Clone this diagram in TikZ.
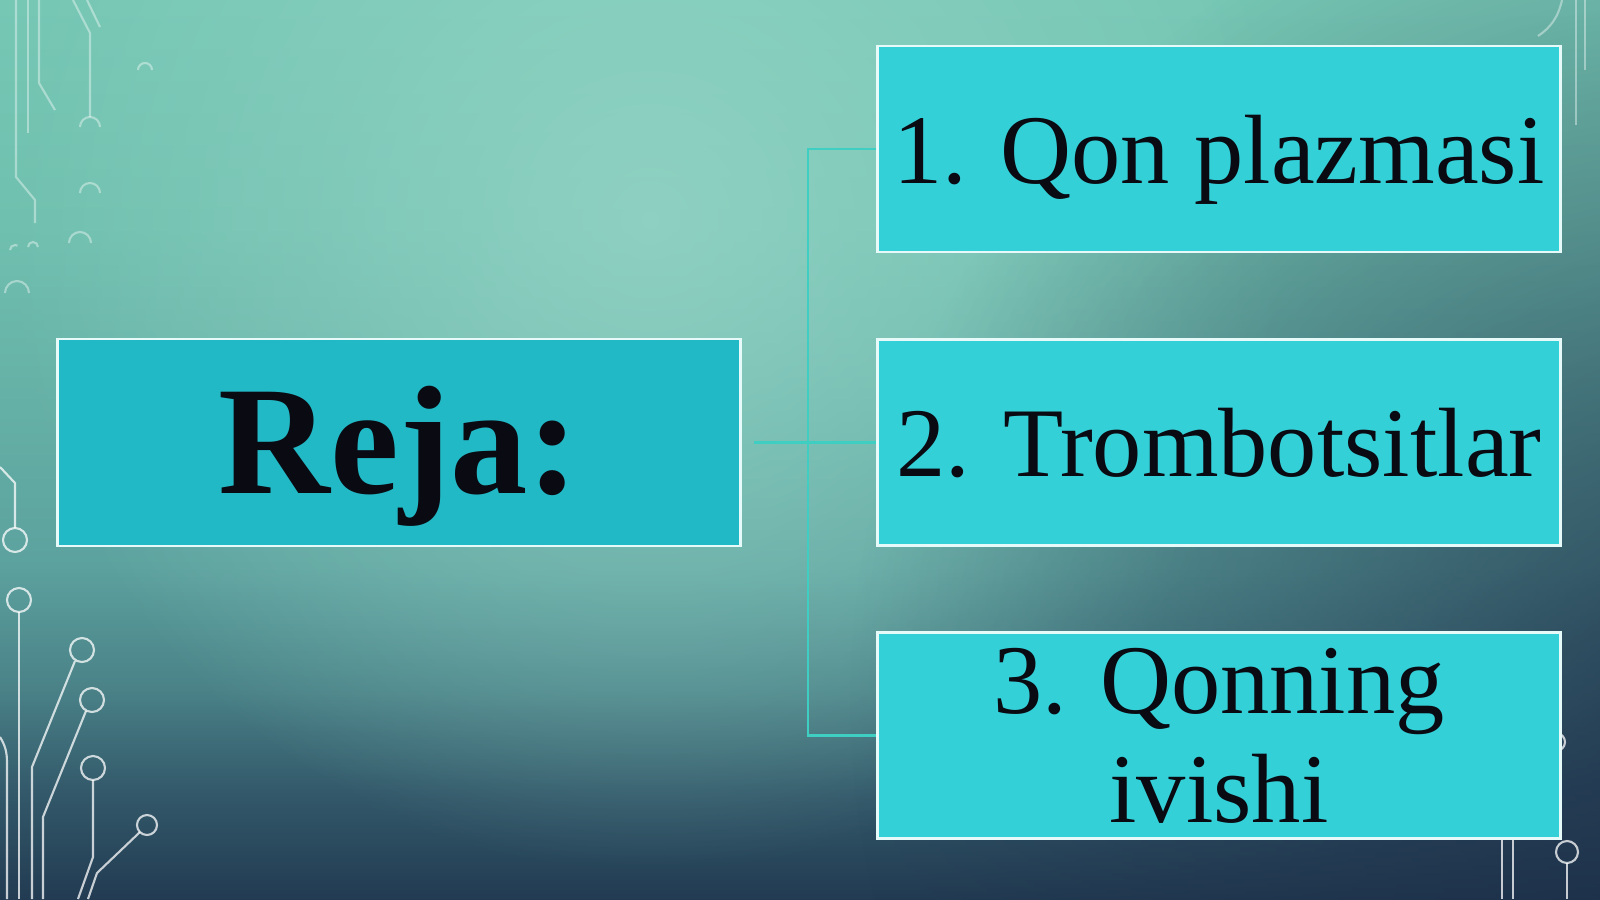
\documentclass[tikz,border=0pt]{standalone}
\usepackage{fontspec}
\setmainfont{Liberation Serif}
\usetikzlibrary{fadings}

\definecolor{bgtop}{HTML}{76C7B4}
\definecolor{bgupper}{HTML}{70C0AF}
\definecolor{bgmid}{HTML}{62ACA4}
\definecolor{bgmidlow}{HTML}{5CA19E}
\definecolor{bglow}{HTML}{4A8288}
\definecolor{bgdeep}{HTML}{33596A}
\definecolor{bgbot}{HTML}{223B52}
\definecolor{bglight}{HTML}{96D5C7}
\definecolor{bgdark}{HTML}{1B2A45}
\definecolor{rejafill}{HTML}{22B9C6}
\definecolor{planfill}{HTML}{34D0D8}
\definecolor{boxline}{HTML}{E6FAFA}
\definecolor{linkteal}{HTML}{3FCFC2}
\definecolor{textink}{HTML}{0A0A12}

% the picture spans 25bp (bottom) to 75bp (top) of the shading
\pgfdeclareverticalshading{slidebg}{100bp}{color(0bp)=(bgbot); color(25bp)=(bgbot);
  color(31bp)=(bgdeep); color(36.75bp)=(bglow); color(43.5bp)=(bgmidlow);
  color(50bp)=(bgmid); color(62.5bp)=(bgupper); color(75bp)=(bgtop); color(100bp)=(bgtop)}
\tikzfading[name=glowfade, inner color=transparent!0, outer color=transparent!100]

\begin{document}
\begin{tikzpicture}[x=0.01cm,y=-0.01cm,
  title box/.style={rectangle,fill=rejafill,draw=boxline,line width=0.8pt,
  minimum width=6.82cm,minimum height=2.07cm,inner sep=0pt,text=textink,
  font=\fontsize{44}{48}\selectfont\bfseries},
  plan box/.style={rectangle,fill=planfill,draw=boxline,line width=0.8pt,
  minimum width=6.82cm,minimum height=2.06cm,inner sep=0pt,text=textink,
  align=center,font=\fontsize{28}{31}\selectfont},
  connector/.style={draw=linkteal,line width=0.7pt},
  trace/.style={draw=white,line width=0.6pt,opacity=0.75},
  faint trace/.style={draw=white,line width=0.6pt,opacity=0.4}]

  \useasboundingbox (0,0) rectangle (1600,899);

  % background of the slide
  \begin{scope}
    \clip (0,0) rectangle (1600,899);
    \fill[shading=slidebg] (0,0) rectangle (1600,899);
    \fill[bglight,fill opacity=0.8,path fading=glowfade] (650,220) circle[radius=650];
    \fill[bgdark,fill opacity=0.75,path fading=glowfade] (1700,700) circle[radius=850];
  \end{scope}

  % circuit traces, top left
  \draw[faint trace] (16,0) -- (16,177) -- (35,200) -- (35,223);
  \draw[faint trace] (28,0) -- (28,133);
  \draw[faint trace] (39,0) -- (39,83) -- (55,110);
  \draw[faint trace] (73,0) -- (90,33) -- (90,117);
  \draw[faint trace] (87,0) -- (100,27);
  \draw[faint trace] (80,127) arc[start angle=180,end angle=360,radius=10];
  \draw[faint trace] (138,70) arc[start angle=180,end angle=360,radius=7];
  \draw[faint trace] (80,193) arc[start angle=180,end angle=360,radius=10];
  \draw[faint trace] (69,243) arc[start angle=180,end angle=360,radius=11];
  \draw[faint trace] (28,247) arc[start angle=180,end angle=360,radius=5];
  \draw[faint trace] (10,250) arc[start angle=180,end angle=300,radius=5];
  \draw[faint trace] (5,293) arc[start angle=180,end angle=360,radius=12];

  % circuit traces, bottom left
  \draw[trace] (0,467) -- (15,483) -- (15,528);
  \draw[trace] (15,540) circle[radius=12];
  \draw[trace] (19,600) circle[radius=12];
  \draw[trace] (19,612) -- (19,899);
  \draw[trace] (82,650) circle[radius=12];
  \draw[trace] (75,661) -- (32,767) -- (32,899);
  \draw[trace] (92,700) circle[radius=12];
  \draw[trace] (86,711) -- (43,817) -- (43,899);
  \draw[trace] (93,768) circle[radius=12];
  \draw[trace] (93,780) -- (93,857) -- (78,899);
  \draw[trace] (147,825) circle[radius=10];
  \draw[trace] (140,832) -- (97,873) -- (88,899);
  \draw[trace] (0,737) .. controls (5,745) and (7,752) .. (7,762) -- (7,899);

  % circuit traces, right edge
  \draw[faint trace] (1562,0) .. controls (1558,18) and (1550,28) .. (1538,36);
  \draw[faint trace] (1576,0) -- (1576,125);
  \draw[faint trace] (1585,0) -- (1585,70);
  \draw[trace] (1556,742) circle[radius=9];
  \draw[trace] (1502,830) -- (1502,899);
  \draw[trace] (1513,830) -- (1513,899);
  \draw[trace] (1567,852) circle[radius=11];
  \draw[trace] (1567,863) -- (1567,899);

  \node[title box,text height=1.01cm,text depth=0pt] (reja) at (399,442.5) {Reja:};
  \node[plan box,text height=0.68cm,text depth=0pt] (plan1) at (1219,149) {1. Qon plazmasi};
  \node[plan box,text height=0.68cm,text depth=0pt] (plan2) at (1219,442.5) {2. Trombotsitlar};
  \node[plan box] (plan3) at (1219,735.5) {3. Qonning\\ivishi};

  \coordinate (fork) at (808,442.5);
  \draw[connector] ([xshift=0.12cm]reja.east) -- (plan2.west);
  \draw[connector] (plan1.west) -| (fork) |- (plan3.west);

\end{tikzpicture}
\end{document}
